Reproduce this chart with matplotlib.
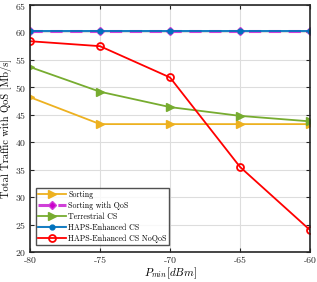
import matplotlib
matplotlib.use("Agg")
import matplotlib.pyplot as plt

plt.rcParams['font.family'] = ['cmr10', 'DejaVu Serif']
plt.rcParams['mathtext.fontset'] = 'cm'
plt.rcParams['axes.formatter.use_mathtext'] = True

# data
p_min = [-80, -75, -70, -65, -60]
sorting = [48.2, 43.3, 43.3, 43.3, 43.3]
sorting_qos = [60.3, 60.3, 60.3, 60.3, 60.3]
terrestrial = [53.7, 49.2, 46.4, 44.8, 43.8]
haps_cs = [60.3, 60.3, 60.3, 60.3, 60.3]
haps_noqos = [58.4, 57.5, 51.8, 35.5, 24.0]

fig = plt.figure(figsize=(3.17, 2.82), dpi=100)
ax = fig.add_axes([30/317, 30/282, 280/317, 247/282])

ax.plot(p_min, sorting, color='#EDB120', marker='>', ms=6, lw=1.3, label='Sorting')
ax.plot(p_min, sorting_qos, color='#D040D8', marker='D', ms=4.5, lw=2.2, ls=(0, (4, 2.5)),
        mfc='#CC00CC', label='Sorting with QoS')
ax.plot(p_min, terrestrial, color='#77AC30', marker='>', ms=6, lw=1.3, label='Terrestrial CS')
ax.plot(p_min, haps_cs, color='#0072BD', marker='o', ms=3.5, lw=1.3, label='HAPS-Enhanced CS')
ax.plot(p_min, haps_noqos, color='#FF0000', marker='o', ms=5, mfc='none', mew=1.3, lw=1.3,
        label='HAPS-Enhanced CS NoQoS')

ax.set_xlim(-80, -60)
ax.set_ylim(20, 65)
ax.set_xticks(p_min)
ax.set_xticklabels(['-80', '-75', '-70', '-65', '-60'])
ax.set_yticks(range(20, 66, 5))
ax.tick_params(direction='in', top=True, right=True, labelsize=7, length=3, width=0.8,
               colors='#262626', pad=3)
ax.grid(True, color='#DDDDDD', lw=0.8)
for s in ax.spines.values():
    s.set_linewidth(1.2)
    s.set_color('#262626')

ax.set_ylabel('Total Traffic with QoS [Mb/s]', fontsize=7.5, labelpad=2)
ax.set_xlabel(r'$P_{min}[dBm]$', fontsize=8, labelpad=1)

leg = ax.legend(loc='lower left', fontsize=5.7, frameon=True, fancybox=False,
                edgecolor='#262626', borderpad=0.3, labelspacing=0.32, handlelength=3.5,
                handletextpad=0.3, borderaxespad=0.4, bbox_to_anchor=(0.01, 0.015))
leg.get_frame().set_linewidth(1.0)

fig.savefig('out.png', dpi=100)
